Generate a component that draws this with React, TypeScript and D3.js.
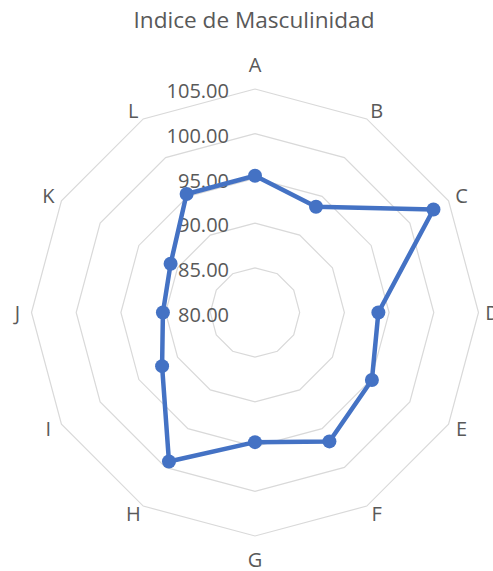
import React from "react";
import * as d3 from "d3";

const categories = ["A", "B", "C", "D", "E", "F", "G", "H", "I", "J", "K", "L"];
const values = [95.3, 93.65, 103.05, 93.8, 95.1, 96.65, 94.5, 99.25, 92.0, 90.3, 90.9, 95.3];
const ticks = [80, 85, 90, 95, 100, 105];

const W = 493;
const H = 571;
const cx = 255;
const cy = 312.5;
const R = 223.5;
const FONT = "'Open Sans', sans-serif";
const TXT = "#595959";

export default function App() {
  const r = d3.scaleLinear().domain([80, 105]).range([0, R]);
  const n = categories.length;
  const ang = (i: number) => (i * 2 * Math.PI) / n;
  const pt = (i: number, rad: number): [number, number] => [
    cx + Math.sin(ang(i)) * rad,
    cy - Math.cos(ang(i)) * rad,
  ];
  const ring = d3.line<number>().x((_, i) => pt(i, 0)[0]).y((_, i) => pt(i, 0)[1]);
  const ringPath = (v: number) => {
    const pts = categories.map((_, i) => pt(i, r(v)));
    return d3.line()(pts.concat([pts[0]])) as string;
  };
  const dataPts = values.map((v, i) => pt(i, r(v)));
  const dataPath = d3.line()(dataPts.concat([dataPts[0]])) as string;
  void ring;

  const labelFs = 20;
  const cap = 0.714 * labelFs;

  return (
    <svg
      width={W}
      height={H}
      style={{ position: "absolute", left: 0, top: 0, background: "#fff" }}
    >
      <rect x={0} y={0} width={W} height={H} fill="#fff" />
      <text
        x={254}
        y={28}
        textAnchor="middle"
        fontFamily={FONT}
        fontSize={22.6}
        fill={TXT}
      >
        Indice de Masculinidad
      </text>
      {ticks.slice(1).map((t) => (
        <path key={t} d={ringPath(t)} fill="none" stroke="#d9d9d9" strokeWidth={1.2} />
      ))}
      {ticks.map((t) => (
        <text
          key={"t" + t}
          x={229}
          y={cy - r(t) + 2 + cap / 2}
          textAnchor="end"
          fontFamily={FONT}
          fontSize={labelFs}
          fill={TXT}
        >
          {t.toFixed(2)}
        </text>
      ))}
      {categories.map((c, i) => {
        const [vx, vy] = pt(i, R);
        const s = Math.sin(ang(i));
        const co = Math.cos(ang(i));
        const dx = Math.abs(s) < 0.01 ? 0 : 14 * Math.sign(s) * Math.sqrt(Math.abs(s));
        const dy = Math.abs(s) < 0.01 ? -co * 24 : -co * 9;
        return (
          <text
            key={c}
            x={vx + dx}
            y={vy + dy + cap / 2}
            textAnchor="middle"
            fontFamily={FONT}
            fontSize={labelFs}
            fill={TXT}
          >
            {c}
          </text>
        );
      })}
      <path d={dataPath} fill="none" stroke="#4472c4" strokeWidth={4.5} strokeLinejoin="round" />
      {dataPts.map(([x, y], i) => (
        <circle key={i} cx={x} cy={y} r={7} fill="#4472c4" />
      ))}
    </svg>
  );
}
